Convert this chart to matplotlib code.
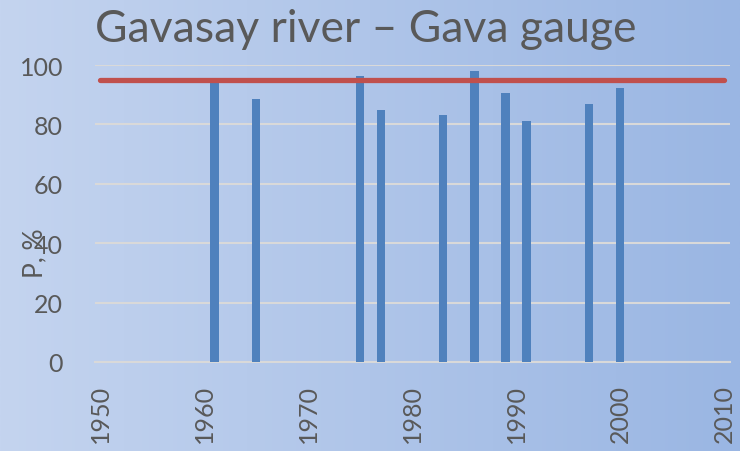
import numpy as np
import matplotlib
matplotlib.use('Agg')
import matplotlib.pyplot as plt
from matplotlib.colors import LinearSegmentedColormap

# data
years = [1961, 1965, 1975, 1977, 1983, 1986, 1989, 1991, 1997, 2000]
p_values = [94.3, 88.6, 96.2, 84.8, 83.0, 98.1, 90.5, 81.1, 86.8, 92.4]
threshold = 95
line_years = [1950, 2010]
x_ticks = [1950, 1960, 1970, 1980, 1990, 2000, 2010]
y_ticks = [0, 20, 40, 60, 80, 100]

plt.rcParams['font.family'] = ['Lato', 'DejaVu Sans']
W, H = 740, 452
fig = plt.figure(figsize=(W / 100, H / 100), dpi=100)

# gradient background
bg = fig.add_axes([0, 0, 1, 1], zorder=-10)
cmap = LinearSegmentedColormap.from_list('bg', ['#C4D4EF', '#9AB6E3'])
bg.imshow(np.linspace(0, 1, 256).reshape(1, -1), aspect='auto', cmap=cmap,
          extent=[0, 1, 0, 1])
bg.axis('off')

ax = fig.add_axes([95 / W, (H - 363) / H, 635 / W, 297 / H])
ax.patch.set_alpha(0)
ax.bar(years, p_values, width=0.8, color='#4F81BD', zorder=3)
ax.plot(line_years, [threshold, threshold], color='#C0504D', linewidth=3.8,
        solid_capstyle='round', zorder=4)

ax.set_xlim(1949.52, 2010.58)
ax.set_ylim(0, 100)
ax.set_xticks(x_ticks)
ax.set_yticks(y_ticks)
ax.grid(axis='y', color='#D9D9D9', linewidth=1.5, zorder=1)
for s in ['top', 'right', 'left']:
    ax.spines[s].set_visible(False)
ax.spines['bottom'].set_color('#D9D9D9')
ax.spines['bottom'].set_linewidth(1.5)
ax.tick_params(axis='y', length=0, pad=23, labelsize=18, labelcolor='#595959')
ax.tick_params(axis='x', length=0, pad=16, labelsize=18, labelcolor='#595959',
               labelrotation=90)

fig.text(95 / W, 1 - 42 / H, 'Gavasay river \u2013 Gava gauge', fontsize=32,
         color='#595959', ha='left', va='baseline')
fig.text(35 / W, 1 - 253 / H, 'P, %', fontsize=19, color='#595959',
         rotation=90, ha='center', va='center')

fig.savefig('out.png', dpi=100)
